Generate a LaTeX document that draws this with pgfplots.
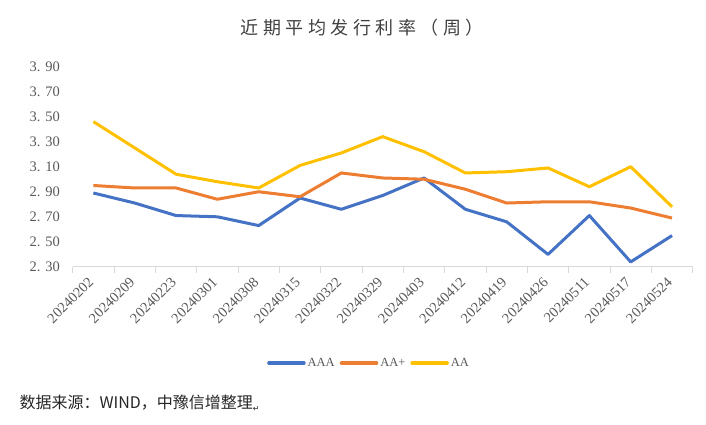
\documentclass[border=0pt]{standalone}
\usepackage{fontspec}
\setmainfont{Liberation Serif}
\newfontfamily\cjk{Noto Sans CJK SC}
\newfontfamily\symb{DejaVu Sans}
\usepackage{pgfplots}
\pgfplotsset{compat=1.18}
\definecolor{cAAA}{HTML}{4472C4}
\definecolor{cAAp}{HTML}{ED7D31}
\definecolor{cAA}{HTML}{FFC000}
\definecolor{axgray}{HTML}{D9D9D9}
\definecolor{txtgray}{HTML}{595959}

\begin{document}
\begin{tikzpicture}[x=1pt,y=1pt]
\path[use as bounding box] (0,0) rectangle (706,-425);
\begin{axis}[
    at={(72.7pt,-266.9pt)}, anchor=south west,
    scale only axis, width=620pt, height=200.4pt,
    xmin=-0.5, xmax=14.5, ymin=2.3, ymax=3.9,
    clip=false,
    axis x line*=bottom, axis y line*=left,
    y axis line style={draw=none},
    x axis line style={axgray, line width=0.9pt, -},
    tick align=outside,
    xtick={0,...,14},
    xticklabels={20240202,20240209,20240223,20240301,20240308,20240315,20240322,
        20240329,20240403,20240412,20240419,20240426,20240511,20240517,20240524},
    major x tick style={draw=none},
    minor xtick={-0.5,0.5,...,14.5},
    minor tick length=6pt,
    minor x tick style={axgray, line width=0.9pt},
    xticklabel style={font=\fontsize{14.5}{16}\selectfont, text=txtgray,
        yshift=-6pt, rotate=45, anchor=east},
    ytick={2.3,2.5,2.7,2.9,3.1,3.3,3.5,3.7,3.9},
    yticklabels={2. 30,2. 50,2. 70,2. 90,3. 10,3. 30,3. 50,3. 70,3. 90},
    ytick style={draw=none},
    yticklabel style={font=\fontsize{14.5}{16}\selectfont, text=txtgray, xshift=-5pt},
    legend style={at={(0.478,-0.48)}, anchor=center, draw=none, fill=none,
        font=\fontsize{12.5}{15}\selectfont, text=txtgray, legend columns=3,
        /tikz/every even column/.append style={column sep=3pt}},
    legend image code/.code={\draw[#1, line width=3.5pt, line cap=round] (0pt,0pt) -- (35pt,0pt);},
]
\addplot[cAAA, line width=3pt, line join=round] coordinates {
    (0,2.89) (1,2.81) (2,2.71) (3,2.70) (4,2.63) (5,2.85) (6,2.76) (7,2.87)
    (8,3.01) (9,2.76) (10,2.66) (11,2.40) (12,2.71) (13,2.34) (14,2.55)};
\addlegendentry{AAA}
\addplot[cAAp, line width=3pt, line join=round] coordinates {
    (0,2.95) (1,2.93) (2,2.93) (3,2.84) (4,2.90) (5,2.86) (6,3.05) (7,3.01)
    (8,3.00) (9,2.92) (10,2.81) (11,2.82) (12,2.82) (13,2.77) (14,2.69)};
\addlegendentry{AA+}
\addplot[cAA, line width=3pt, line join=round] coordinates {
    (0,3.46) (1,3.25) (2,3.04) (3,2.98) (4,2.93) (5,3.11) (6,3.21) (7,3.34)
    (8,3.22) (9,3.05) (10,3.06) (11,3.09) (12,2.94) (13,3.10) (14,2.78)};
\addlegendentry{AA}
\end{axis}
\node[text=black!75, font={\cjk\addfontfeature{LetterSpace=25}\fontsize{18}{20}\selectfont}]
    at (362,-28) {近期平均发行利率（周）};
\node[anchor=west, text=black!85, font={\cjk\fontsize{16}{18}\selectfont}]
    at (16,-403) {数据来源：WIND，中豫信增整理{\symb\fontsize{8}{9}\selectfont\raisebox{-3pt}{↵}}};
\end{tikzpicture}
\end{document}
